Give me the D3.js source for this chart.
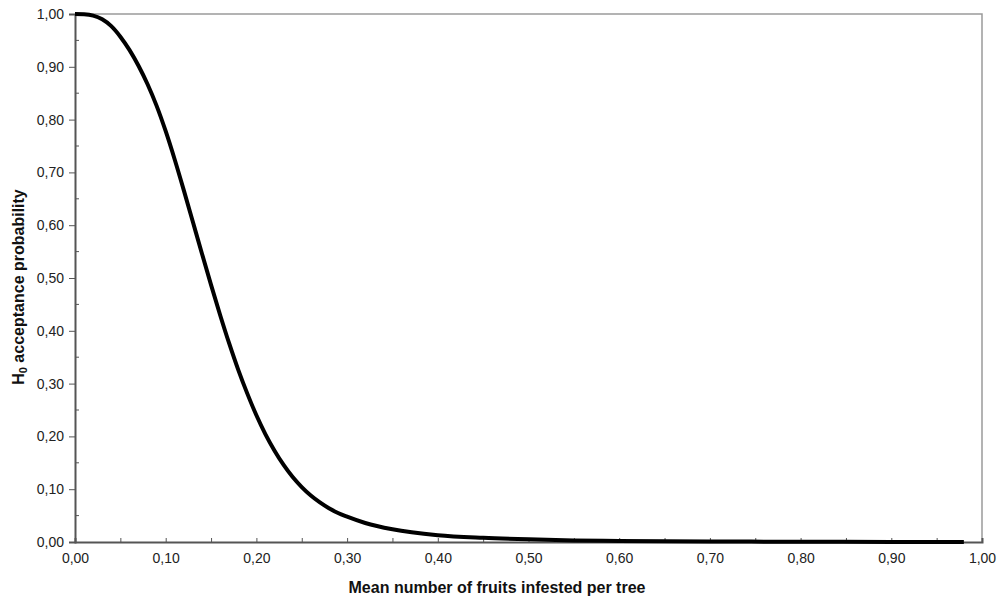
<!DOCTYPE html>
<html>
<head>
<meta charset="utf-8">
<script src="https://cdn.jsdelivr.net/npm/d3@7"></script>
<style>
  body { margin: 0; background: #fff; }
  text { font-family: "Liberation Sans", Arial, sans-serif; }
</style>
</head>
<body>
<div id="chart"></div>
<script>
// mean number of infested fruits per tree (x) and H0 acceptance probability (y)
const meanInfested = [0.00, 0.01, 0.02, 0.03, 0.04, 0.05, 0.06, 0.07, 0.08, 0.09,
  0.10, 0.11, 0.12, 0.13, 0.14, 0.15, 0.16, 0.17, 0.18, 0.19,
  0.20, 0.21, 0.22, 0.23, 0.24, 0.25, 0.26, 0.27, 0.28, 0.29,
  0.30, 0.32, 0.35, 0.40, 0.45, 0.50, 0.55, 0.60, 0.70, 0.80, 0.90, 0.98]
const acceptProb = [1.000, 0.9995, 0.997, 0.990, 0.977, 0.957, 0.932, 0.902, 0.867, 0.826,
  0.778, 0.724, 0.666, 0.606, 0.546, 0.487, 0.430, 0.376, 0.326, 0.281,
  0.240, 0.204, 0.173, 0.146, 0.123, 0.104, 0.088, 0.075, 0.064, 0.055,
  0.048, 0.036, 0.024, 0.013, 0.008, 0.005, 0.003, 0.002, 0.001, 0.0005, 0.0002, 0.0001]
const xTicks = d3.range(0, 1.0001, 0.1)
const yTicks = d3.range(0, 1.0001, 0.1)

const W = 1008, H = 602
const margin = { top: 14, right: 26, bottom: 60, left: 75 }
const chartWidth = W - margin.left - margin.right
const chartHeight = H - margin.top - margin.bottom
const fmt = v => d3.format(".2f")(v).replace(".", ",")

const svg = d3.select("#chart").append("svg")
  .attr("width", W).attr("height", H)
const g = svg.append("g").attr("transform", `translate(${margin.left},${margin.top})`)

const x = d3.scaleLinear().domain([0, 1]).range([0, chartWidth])
const y = d3.scaleLinear().domain([0, 1]).range([chartHeight, 0])

// top and right frame
g.append("path")
  .attr("d", `M0,0H${chartWidth}V${chartHeight}`)
  .attr("fill", "none").attr("stroke", "#9a9a9a").attr("stroke-width", 1.5)

// minor ticks (inside)
const minor = d3.range(0.05, 1.0, 0.1)
g.selectAll(".ymin").data(minor).join("line")
  .attr("x1", 0).attr("x2", 4)
  .attr("y1", d => y(d)).attr("y2", d => y(d))
  .attr("stroke", "#555").attr("stroke-width", 1)

// Y axis
const yAxis = g.append("g")
  .call(d3.axisLeft(y).tickValues(yTicks).tickFormat(fmt).tickSize(6).tickPadding(5))
yAxis.select(".domain").attr("stroke", "#555").attr("stroke-width", 2)
yAxis.selectAll(".tick line").attr("stroke", "#555")
yAxis.selectAll("text").attr("font-size", 14).attr("fill", "#222")

// X axis, ticks pointing inward
const xAxis = g.append("g").attr("transform", `translate(0,${chartHeight})`)
  .call(d3.axisBottom(x).tickValues(d3.range(0, 1.0001, 0.05)).tickSize(-4)
    .tickFormat((d, i) => i % 2 === 0 ? fmt(d) : ""))
xAxis.select(".domain").attr("stroke", "#555").attr("stroke-width", 2)
xAxis.selectAll(".tick line").attr("stroke", "#555")
xAxis.selectAll("text").attr("font-size", 14).attr("fill", "#222").attr("dy", "1.25em")

// curve
const pts = meanInfested.map((v, i) => [v, acceptProb[i]])
g.append("path")
  .datum(pts)
  .attr("fill", "none")
  .attr("stroke", "#000")
  .attr("stroke-width", 4)
  .attr("stroke-linejoin", "round")
  .attr("d", d3.line()
    .curve(d3.curveMonotoneX)
    .x(d => x(d[0]))
    .y(d => y(d[1])))

// axis titles
svg.append("text")
  .attr("x", 497).attr("y", 593)
  .attr("text-anchor", "middle")
  .attr("font-size", 16).attr("font-weight", "bold").attr("fill", "#111")
  .text("Mean number of fruits infested per tree")

const yt = svg.append("text")
  .attr("transform", "translate(24,287) rotate(-90)")
  .attr("text-anchor", "middle")
  .attr("font-size", 16).attr("font-weight", "bold").attr("fill", "#111")
yt.append("tspan").text("H")
yt.append("tspan").attr("baseline-shift", "-25%").attr("font-size", 11).text("0")
yt.append("tspan").text(" acceptance probability")
</script>
</body>
</html>
